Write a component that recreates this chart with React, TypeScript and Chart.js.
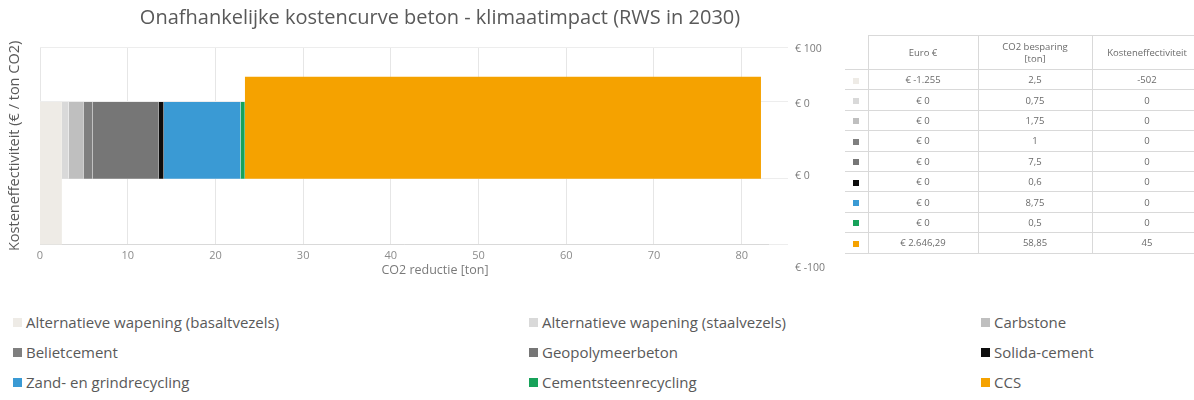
import React, { useEffect, useRef } from 'react';
import { Chart, registerables } from 'chart.js';

Chart.register(...registerables);

const chartTitle = 'Onafhankelijke kostencurve beton - klimaatimpact (RWS in 2030)';
const xTitle = 'CO2 reductie [ton]';
const yTitle = 'Kosteneffectiviteit (€ / ton CO2)';

const categories = [
  'Alternatieve wapening (basaltvezels)',
  'Alternatieve wapening (staalvezels)',
  'Carbstone',
  'Belietcement',
  'Geopolymeerbeton',
  'Solida-cement',
  'Zand- en grindrecycling',
  'Cementsteenrecycling',
  'CCS',
];
const co2Savings = [2.5, 0.75, 1.75, 1, 7.5, 0.6, 8.75, 0.5, 58.85];
const euroLabels = ['€ -1.255', '€ 0', '€ 0', '€ 0', '€ 0', '€ 0', '€ 0', '€ 0', '€ 2.646,29'];
const co2Labels = ['2,5', '0,75', '1,75', '1', '7,5', '0,6', '8,75', '0,5', '58,85'];
const effectLabels = ['-502', '0', '0', '0', '0', '0', '0', '0', '45'];
// bar top / bottom as read on the (unlabelled) plot scale
const barTop = [50, 50, 50, 50, 50, 50, 50, 50, 73];
const barBottom = [-502, -20, -20, -20, -20, -20, -20, -20, -20];
const colors = ['#EEEBE6', '#D9D9D9', '#BFBFBF', '#7F7F7F', '#767676', '#0D0D0D', '#3A9AD4', '#17A25A', '#F5A200'];
const xTicks = [0, 10, 20, 30, 40, 50, 60, 70, 80];
const yGridValues = [100, 50, -20, -80];
const rightLabels = ['€ 100', '€ 0', '€ 0', '€ -100'];
const rightLabelTops = [48, 103, 175, 267];
const tableHeaders = ['Euro €', 'CO2 besparing\n[ton]', 'Kosteneffectiviteit'];

const legendCols = [13, 529, 981];
const legendRows = [322, 352, 382];

const FONT = "'Open Sans', sans-serif";

export default function App() {
  const ref = useRef<HTMLCanvasElement>(null);

  useEffect(() => {
    if (!ref.current) return;
    let cum = 0;
    const datasets = categories.map((name, i) => {
      const x0 = cum;
      cum += co2Savings[i];
      const x1 = cum;
      return {
        label: name,
        data: [
          { x: x0, y: barTop[i] },
          { x: x1, y: barTop[i] },
        ],
        fill: { value: barBottom[i] },
        backgroundColor: colors[i],
        borderColor: colors[i],
        borderWidth: 0,
        pointRadius: 0,
        tension: 0,
        yAxisID: 'y',
      };
    });
    const chart = new Chart(ref.current, {
      type: 'line',
      data: { datasets: datasets as any },
      options: {
        animation: false,
        responsive: false,
        layout: { padding: { left: 0, right: 0, top: 0, bottom: 24 } },
        plugins: {
          legend: { display: false },
          tooltip: { enabled: false },
          title: {
            display: true,
            text: chartTitle,
            color: '#595959',
            font: { size: 20, weight: 'normal', family: FONT },
            padding: { top: 6, bottom: 17 },
          },
        },
        scales: {
          x: {
            type: 'linear',
            min: 0,
            max: 83,
            afterBuildTicks: (s: any) => {
              s.ticks = xTicks.map((v) => ({ value: v }));
            },
            grid: { color: '#e6e6e6', drawTicks: false },
            border: { color: '#d9d9d9' },
            ticks: { color: '#8c8c8c', font: { size: 11, family: FONT }, padding: 4 },
          },
          y: {
            position: 'right',
            min: -80,
            max: 100,
            afterBuildTicks: (s: any) => {
              s.ticks = yGridValues.map((v) => ({ value: v }));
            },
            afterFit: (s: any) => {
              s.width = 112;
            },
            ticks: { display: false },
            grid: { color: '#ededed', tickLength: 20 },
            border: { display: false },
          },
          yl: {
            display: true,
            position: 'left',
            min: -80,
            max: 100,
            ticks: { display: false },
            grid: { display: false, drawTicks: false },
            border: { display: false },
            title: {
              display: true,
              text: yTitle,
              color: '#595959',
              font: { size: 14.5, family: FONT },
              padding: { top: 6, bottom: 16.6 },
            },
          },
        },
      } as any,
    });
    return () => chart.destroy();
  }, []);

  const cellBorder = '1px solid #d9d9d9';

  return (
    <div
      style={{
        position: 'fixed',
        left: 0,
        top: 0,
        width: 1194,
        height: 400,
        background: '#ffffff',
        overflow: 'hidden',
        fontFamily: FONT,
        color: '#595959',
      }}
    >
      <canvas ref={ref} width={880} height={290} style={{ position: 'absolute', left: 0, top: 0 }} />
      <div
        style={{
          position: 'absolute',
          left: 335,
          width: 200,
          top: 262,
          textAlign: 'center',
          fontSize: 12.5,
          lineHeight: '16px',
          color: '#7a7a7a',
          whiteSpace: 'nowrap',
        }}
      >
        {xTitle}
      </div>
      {rightLabels.map((t, i) => (
        <div
          key={i}
          style={{
            position: 'absolute',
            left: 795,
            top: rightLabelTops[i] - 7,
            fontSize: 10.5,
            lineHeight: '14px',
            color: '#7a7a7a',
            whiteSpace: 'nowrap',
          }}
        >
          {t}
        </div>
      ))}
      <table
        style={{
          position: 'absolute',
          left: 845,
          top: 35,
          borderCollapse: 'collapse',
          tableLayout: 'fixed',
          width: 357,
          fontSize: 9.5,
          color: '#6a6a6a',
        }}
      >
        <colgroup>
          <col style={{ width: 23 }} />
          <col style={{ width: 110 }} />
          <col style={{ width: 114 }} />
          <col style={{ width: 110 }} />
        </colgroup>
        <tbody>
          <tr style={{ height: 34 }}>
            <td style={{ borderBottom: cellBorder }} />
            {tableHeaders.map((h, i) => (
              <td
                key={i}
                style={{
                  border: cellBorder,
                  textAlign: 'center',
                  whiteSpace: 'pre-line',
                  lineHeight: '12px',
                  padding: 0,
                }}
              >
                {h}
              </td>
            ))}
          </tr>
          {categories.map((c, i) => (
            <tr key={c} style={{ height: 20.4 }}>
              <td style={{ borderTop: cellBorder, borderBottom: cellBorder, textAlign: 'center', padding: 0 }}>
                <span
                  style={{
                    display: 'inline-block',
                    width: 6,
                    height: 6,
                    background: colors[i],
                    verticalAlign: 'middle',
                  }}
                />
              </td>
              <td style={{ border: cellBorder, textAlign: 'center', padding: 0 }}>{euroLabels[i]}</td>
              <td style={{ border: cellBorder, textAlign: 'center', padding: 0 }}>{co2Labels[i]}</td>
              <td style={{ border: cellBorder, textAlign: 'center', padding: 0 }}>{effectLabels[i]}</td>
            </tr>
          ))}
        </tbody>
      </table>
      {categories.map((c, i) => {
        const col = i % 3;
        const row = Math.floor(i / 3);
        return (
          <div
            key={c}
            style={{
              position: 'absolute',
              left: legendCols[col],
              top: legendRows[row] - 10,
              height: 20,
              display: 'flex',
              alignItems: 'center',
              fontSize: 15,
              color: '#595959',
              whiteSpace: 'nowrap',
            }}
          >
            <span style={{ display: 'inline-block', width: 9, height: 9, background: colors[i], marginRight: 4 }} />
            <span>{c}</span>
          </div>
        );
      })}
    </div>
  );
}
